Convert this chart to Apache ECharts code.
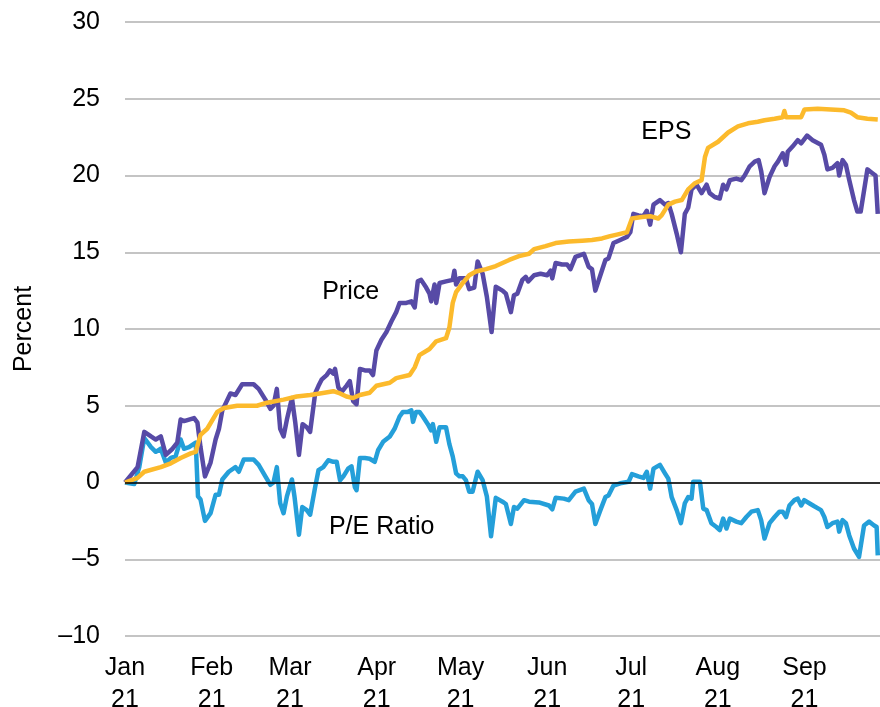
<!DOCTYPE html>
<html>
<head>
    <meta charset="utf-8">
    <script src="https://cdn.jsdelivr.net/npm/echarts@6/dist/echarts.min.js"></script>
    <style>
        body{
            margin:0;
            padding:0;
            background:#fff;
        }
    </style>
</head>
<body>
<div id="main" style="width:880px;height:707px;"></div>
<script type="text/javascript">
// x = days since 1 Jan 2021
let monthStarts = [0, 31, 59, 90, 120, 151, 181, 212, 243];
let monthNames = ['Jan', 'Feb', 'Mar', 'Apr', 'May', 'Jun', 'Jul', 'Aug', 'Sep'];
let yearLabel = '21';

let priceData = [[0,0],[4.5,1.0],[6.9,3.3],[9.3,3.0],[11.0,2.8],[12.8,3.0],[14.6,1.8],[17.0,2.2],[18.7,2.6],[19.9,4.1],[21.1,4.0],[22.9,4.1],[24.7,4.2],[25.9,3.9],[27.0,2.3],[28.6,0.4],[30.6,1.3],[32.4,2.8],[33.6,3.5],[34.8,4.7],[37.7,5.8],[39.5,5.7],[41.9,6.4],[46.0,6.4],[47.8,6.1],[50.2,5.4],[52.0,4.8],[53.1,5.0],[54.3,6.1],[55.5,3.5],[56.7,3.0],[57.9,4.1],[59.7,5.5],[60.9,3.9],[62.2,1.8],[63.5,3.8],[65.0,3.6],[66.2,3.3],[68.0,5.8],[69.2,6.3],[70.3,6.7],[72.1,7.0],[73.3,7.3],[74.5,7.1],[75.1,7.4],[76.3,6.2],[77.5,5.9],[79.2,6.3],[80.4,6.6],[81.6,5.3],[82.8,5.1],[84.0,7.4],[85.8,7.3],[87.5,7.3],[88.7,7.0],[89.9,8.6],[91.7,9.3],[93.5,9.8],[95.3,10.5],[97.0,11.1],[98.2,11.7],[100.6,11.7],[102.4,11.8],[103.6,11.4],[104.7,13.1],[105.9,13.2],[107.7,12.7],[108.9,12.3],[109.5,11.8],[110.7,12.9],[111.3,11.7],[112.5,13.0],[114.8,13.1],[117.2,13.2],[117.8,13.8],[118.4,12.9],[119.6,13.3],[121.9,13.3],[123.1,12.6],[124.9,12.7],[126.1,14.4],[127.9,13.6],[129.4,12.1],[131.1,9.8],[132.6,12.75],[135.0,12.5],[136.2,12.3],[138.0,11.1],[139.1,12.2],[140.3,12.3],[142.1,13.2],[143.3,13.4],[144.2,13.1],[146.3,13.5],[148.6,13.6],[151.0,13.5],[152.2,13.8],[152.8,13.3],[154.0,14.3],[156.3,14.2],[158.1,14.2],[159.3,13.9],[161.1,14.7],[164.1,14.9],[165.8,14.05],[167.0,13.9],[168.2,12.5],[170.0,13.5],[171.8,14.5],[172.9,14.6],[174.7,15.6],[177.1,15.8],[179.5,16.0],[180.7,16.3],[181.8,17.5],[183.6,17.4],[185.4,17.35],[186.6,17.7],[187.8,16.8],[189.0,18.1],[191.3,18.4],[191.9,18.5],[193.1,18.1],[194.3,18.2],[195.5,17.5],[197.3,16.2],[198.8,15.0],[200.2,17.5],[201.4,17.9],[202.6,19.1],[204.4,19.4],[206.2,18.85],[208.0,19.4],[209.1,18.85],[210.9,18.6],[212.7,18.5],[213.9,19.4],[215.1,19.1],[216.3,19.7],[218.6,19.8],[220.4,19.7],[221.6,20.0],[223.4,20.6],[225.2,20.9],[226.6,21.0],[227.5,20.3],[228.7,18.85],[230.5,19.9],[232.3,20.6],[233.5,20.9],[235.2,21.45],[236.4,20.7],[237.0,21.55],[238.8,21.9],[240.6,22.3],[241.8,22.1],[243.9,22.6],[245.9,22.3],[248.9,22.0],[250.1,21.35],[251.2,20.4],[253.0,20.5],[254.8,20.8],[255.4,20.0],[256.6,21.0],[257.8,20.7],[259.0,19.7],[260.7,18.4],[261.9,17.65],[263.1,17.65],[265.5,20.4],[267.3,20.15],[268.4,20.0],[269.2,17.5]];

let epsData = [[0,0],[4.5,0.3],[6.9,0.7],[12.8,1.0],[16.4,1.25],[19.9,1.6],[23.5,1.9],[25.3,2.0],[27.0,3.1],[29.4,3.5],[33.0,4.6],[35.4,4.85],[40.1,5.0],[47.2,5.0],[50.8,5.2],[56.7,5.4],[61.4,5.6],[66.2,5.7],[69.7,5.8],[74.5,5.95],[76.9,5.8],[79.2,5.6],[81.6,5.5],[84.0,5.7],[87.5,5.85],[89.9,6.3],[94.7,6.5],[97.0,6.8],[101.8,7.0],[103.6,7.5],[105.3,8.3],[108.9,8.7],[111.3,9.2],[114.8,9.4],[116.0,10.1],[117.2,11.7],[118.4,12.4],[120.8,13.0],[123.1,13.5],[125.5,13.75],[129.1,13.9],[132.6,14.1],[135.0,14.3],[137.4,14.5],[140.9,14.75],[144.5,14.9],[146.3,15.2],[150.4,15.4],[154.0,15.6],[158.7,15.7],[163.5,15.75],[167.0,15.8],[170.6,15.9],[173.5,16.05],[175.9,16.15],[179.5,16.3],[180.1,16.4],[181.3,17.2],[184.8,17.3],[187.8,17.35],[190.7,17.2],[191.9,17.4],[194.3,18.1],[196.7,18.3],[199.1,18.4],[201.4,19.1],[203.8,19.5],[206.2,19.7],[207.4,21.2],[208.5,21.8],[212.1,22.2],[215.7,22.8],[219.2,23.2],[222.8,23.4],[226.3,23.5],[228.7,23.6],[232.3,23.7],[235.2,23.8],[235.8,24.2],[236.4,23.8],[241.8,23.8],[243.0,24.3],[247.7,24.35],[252.4,24.3],[257.2,24.25],[259.6,24.1],[261.9,23.8],[265.5,23.7],[269.2,23.65]];

let peData = [[0,0],[3.3,-0.1],[5.1,1.0],[6.9,2.9],[9.3,2.3],[11.0,2.0],[12.8,2.2],[14.6,1.3],[16.4,1.6],[18.1,1.7],[19.9,2.8],[21.1,2.2],[22.9,2.3],[25.3,2.6],[26.1,-0.9],[27.0,-1.1],[28.6,-2.5],[30.6,-2.0],[32.4,-0.8],[33.6,-0.8],[34.8,0.2],[37.1,0.7],[39.5,1.0],[40.7,0.7],[42.5,1.5],[46.0,1.5],[47.8,1.15],[50.2,0.4],[52.0,-0.15],[53.1,0.0],[54.3,1.0],[55.5,-1.35],[56.7,-2.0],[57.9,-0.9],[59.7,0.2],[60.6,-0.9],[62.2,-3.4],[63.4,-1.6],[65.0,-1.8],[66.2,-2.1],[68.0,-0.3],[69.2,0.8],[70.9,1.0],[72.7,1.45],[74.5,1.35],[75.7,1.35],[76.9,0.15],[78.1,0.4],[79.8,0.9],[81.0,1.05],[82.2,-0.3],[82.8,-0.5],[84.0,1.6],[85.8,1.6],[87.5,1.55],[89.3,1.35],[90.5,2.1],[92.3,2.65],[94.7,3.0],[96.4,3.5],[98.2,4.3],[99.4,4.6],[101.2,4.6],[102.4,4.7],[103.0,3.95],[104.1,4.6],[105.3,4.6],[106.5,4.3],[108.3,3.8],[109.5,3.4],[110.1,3.8],[111.3,2.65],[112.5,3.6],[114.8,3.6],[116.0,2.5],[117.2,1.7],[118.4,0.6],[119.6,0.4],[120.8,0.4],[121.9,0.15],[123.1,-0.6],[124.3,-0.6],[126.1,0.7],[127.9,0.15],[129.4,-0.9],[130.9,-3.5],[132.6,-1.0],[135.0,-1.25],[136.2,-1.4],[138.0,-2.7],[139.1,-1.6],[140.3,-1.7],[142.7,-1.15],[144.5,-1.25],[148.0,-1.3],[151.6,-1.5],[152.8,-1.75],[154.0,-1.0],[156.9,-1.05],[158.7,-1.15],[161.1,-0.6],[164.1,-0.4],[165.8,-1.15],[167.0,-1.4],[168.2,-2.7],[170.0,-1.8],[171.8,-0.95],[172.9,-0.85],[174.7,-0.2],[177.1,-0.05],[180.1,0.05],[181.3,0.55],[183.6,0.4],[185.4,0.3],[186.6,0.7],[187.8,-0.4],[189.0,0.9],[191.3,1.15],[191.9,1.25],[193.1,0.6],[194.3,0.25],[195.5,-0.95],[197.3,-1.8],[198.8,-2.65],[200.2,-1.35],[201.4,-0.95],[202.6,-1.05],[203.2,0.05],[205.6,0.05],[206.8,-1.7],[208.0,-1.8],[209.7,-2.65],[211.5,-2.9],[212.7,-3.1],[213.9,-2.35],[215.1,-3.0],[216.3,-2.35],[218.6,-2.55],[220.4,-2.65],[222.2,-2.25],[224.0,-1.9],[226.3,-1.8],[227.5,-2.45],[228.7,-3.65],[230.5,-2.65],[232.3,-2.25],[234.0,-1.9],[235.2,-1.9],[236.4,-2.25],[237.6,-1.5],[239.4,-1.15],[240.6,-1.05],[241.8,-1.5],[242.9,-1.15],[244.7,-1.35],[246.5,-1.55],[248.9,-1.8],[250.1,-2.25],[251.2,-2.9],[253.0,-2.65],[254.8,-2.55],[255.4,-3.2],[256.6,-2.45],[257.8,-2.65],[259.0,-3.45],[260.7,-4.3],[262.5,-4.85],[264.3,-2.8],[266.1,-2.55],[267.9,-2.8],[268.8,-2.9],[269.2,-4.75]];

// label anchors for the in-chart series names
let seriesNames = ['P/E Ratio', 'Price', 'EPS'];
let nameAnchors = [[91.8, -2.9], [80.7, 12.4], [193.6, 22.8]];

var myChart = echarts.init(document.getElementById('main'));

var fontFamily = 'Arial, "Liberation Sans", Helvetica, sans-serif';

function nameMark(i) {
  return {
    silent: true,
    symbol: 'rect',
    symbolSize: 1,
    itemStyle: { color: 'rgba(0,0,0,0)' },
    label: {
      show: true,
      position: 'inside',
      formatter: seriesNames[i],
      color: '#000',
      fontSize: 25,
      fontFamily: fontFamily
    },
    data: [{ coord: nameAnchors[i] }]
  };
}

option = {
  animation: false,
  backgroundColor: '#fff',
  grid: {
    left: 125,
    right: 0,
    top: 22,
    bottom: 71,
    containLabel: false,
    outerBoundsMode: 'none'
  },
  xAxis: {
    type: 'value',
    min: 0,
    max: 270,
    axisLine: { show: false },
    axisTick: { show: false },
    splitLine: { show: false },
    axisLabel: {
      customValues: monthStarts,
      margin: 16,
      color: '#000',
      fontSize: 25,
      lineHeight: 32,
      fontFamily: fontFamily,
      formatter: function (v) {
        var i = monthStarts.indexOf(v);
        return monthNames[i] + '\n' + yearLabel;
      }
    }
  },
  yAxis: {
    type: 'value',
    min: -10,
    max: 30,
    interval: 5,
    name: 'Percent',
    nameLocation: 'middle',
    nameRotate: 90,
    nameGap: 88,
    nameTextStyle: { color: '#000', fontSize: 25, fontFamily: fontFamily },
    axisLine: { show: false },
    axisTick: { show: false },
    axisLabel: {
      margin: 25,
      color: '#000',
      fontSize: 25,
      fontFamily: fontFamily,
      formatter: function (v) {
        return String(v).replace('-', '\u2013');
      }
    },
    splitLine: { lineStyle: { color: '#c4c4c4', width: 2 } }
  },
  series: [
    {
      name: 'P/E Ratio',
      type: 'line',
      data: peData,
      showSymbol: false,
      lineStyle: { color: '#249fd9', width: 4.5, join: 'round' },
      markLine: {
        silent: true,
        symbol: 'none',
        label: { show: false },
        lineStyle: { color: '#000', width: 1.5, type: 'solid' },
        data: [{ yAxis: 0 }]
      },
      markPoint: nameMark(0)
    },
    {
      name: 'Price',
      type: 'line',
      data: priceData,
      showSymbol: false,
      lineStyle: { color: '#574aa6', width: 4.5, join: 'round' },
      markPoint: nameMark(1)
    },
    {
      name: 'EPS',
      type: 'line',
      data: epsData,
      showSymbol: false,
      lineStyle: { color: '#fcba2c', width: 4.5, join: 'round' },
      markPoint: nameMark(2)
    }
  ]
};
myChart.setOption(option);
</script>
</body>
</html>
